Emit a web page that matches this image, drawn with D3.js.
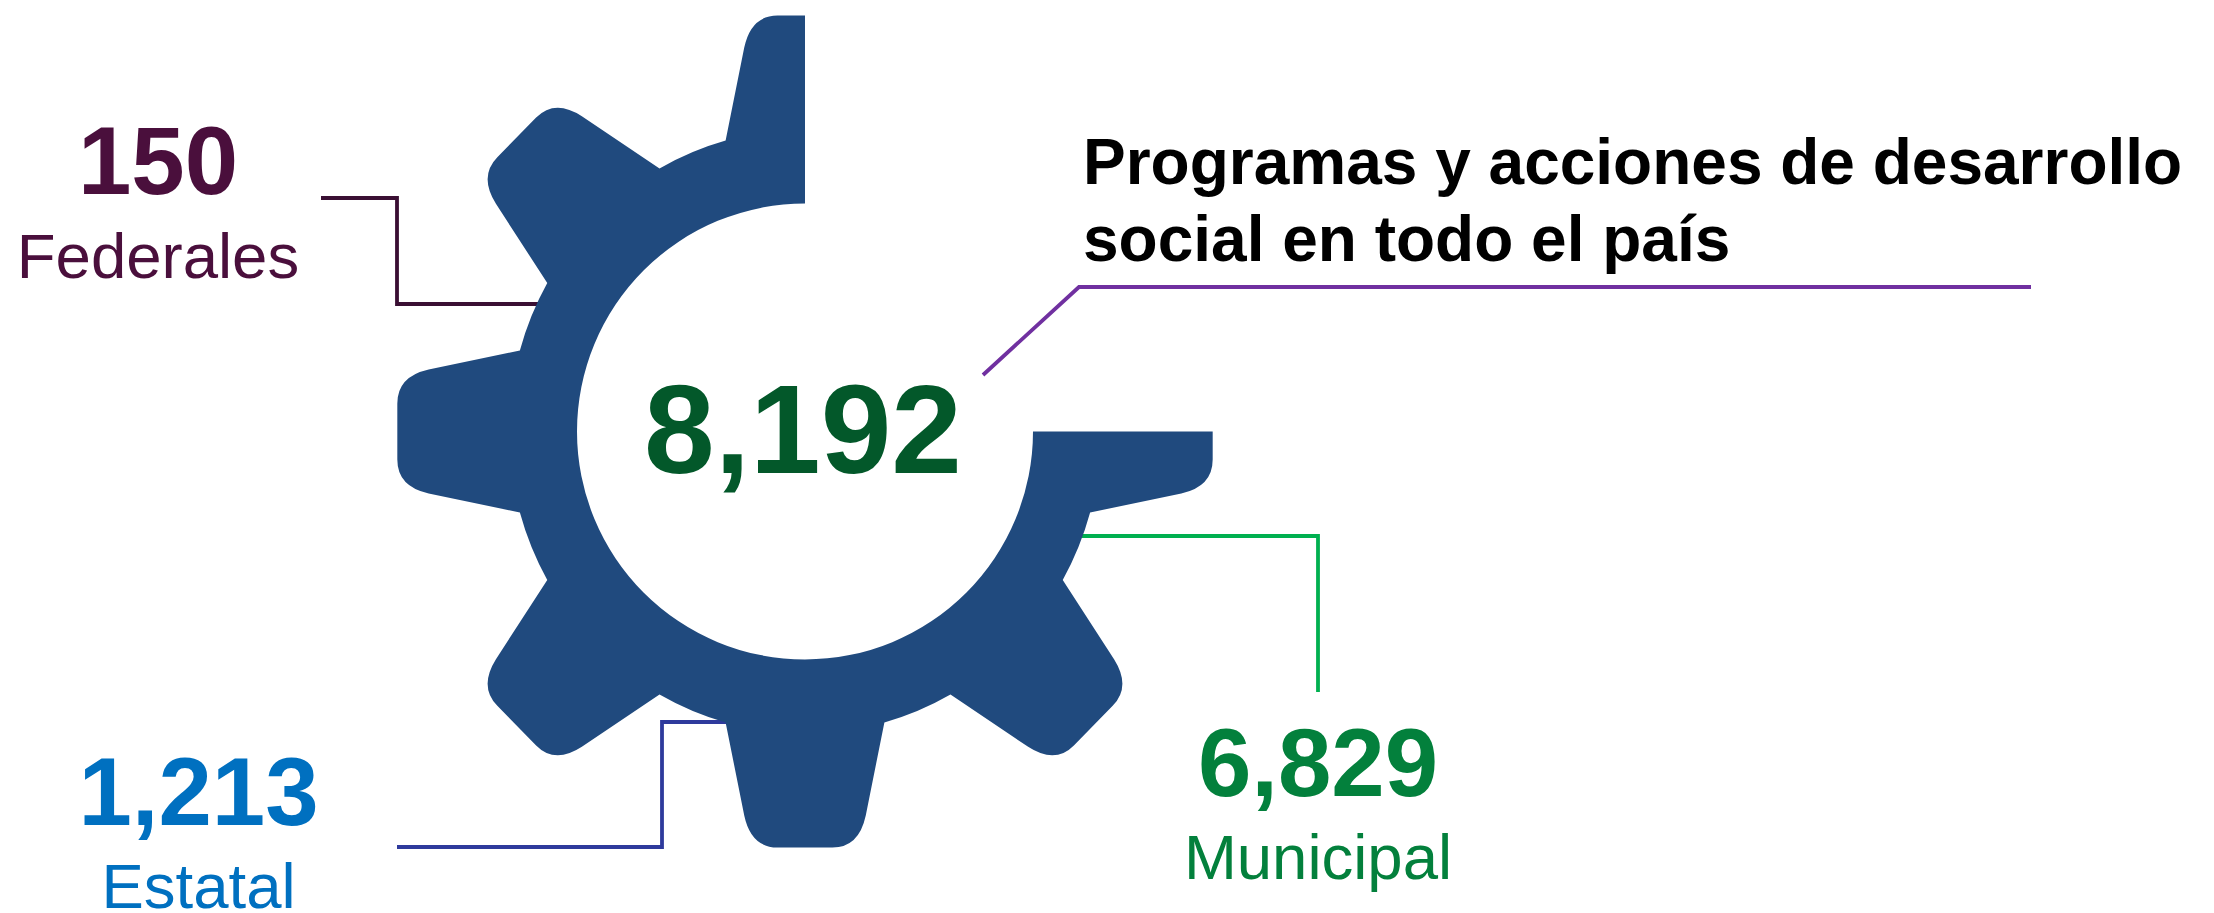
<!DOCTYPE html>
<html>
<head>
<meta charset="utf-8">
<title>Programas y acciones de desarrollo social</title>
<script src="https://cdn.jsdelivr.net/npm/d3@7"></script>
<style>
    html, body { margin: 0; padding: 0; background: #fff; overflow: hidden; }
    text { font-family: "Liberation Sans", Arial, sans-serif; }
</style>
</head>
<body>
<svg id="chart" width="2214" height="913"></svg>
<script>
// -- data
var categories = ["Federales", "Estatal", "Municipal"];
var values = [150, 1213, 6829];
var total = 8192;
var titleLines = ["Programas y acciones de desarrollo", "social en todo el país"];

// -- colours, same order as categories
var valueColors = ["#4a0f3c", "#0070c0", "#03803c"];
var lineColors = ["#3a0f33", "#2e3a9c", "#00b050"];
var gearColor = "#204a7e";
var totalColor = "#03582a";
var titleLineColor = "#7030a0";

// -- layout: label centre, value baseline, label baseline, leader line
var slots = [
    {x: 158, valueY: 194, labelY: 278, line: [[321, 198], [397, 198], [397, 304], [545, 304]]},
    {x: 198.5, valueY: 825, labelY: 908, line: [[397, 847], [662, 847], [662, 722], [730, 722]]},
    {x: 1318, valueY: 796, labelY: 879, line: [[1075, 536], [1318, 536], [1318, 692]]}
];

var svg = d3.select("#chart");
var fmt = d3.format(",");
var lineGen = d3.line();

// -- the gear: 8 teeth, top right quarter left out
var cx = 805, cy = 431.5;
var holeR = 228, rootR = 302, squeezeX = 0.98;
var toothCount = 8;
var toothHalf = Math.asin(81 / rootR);

function toothPoint(a, u, v) {
    return [cx + squeezeX * (u * Math.cos(a) + v * Math.sin(a)), cy + u * Math.sin(a) - v * Math.cos(a)];
}

function gearPath() {
    var p = d3.path();
    var step = 2 * Math.PI / toothCount;
    var pt;

    function lineTo(a, u, v) { pt = toothPoint(a, u, v); p.lineTo(pt[0], pt[1]); }
    function curveTo(a, cu, cv, u, v) {
        var c = toothPoint(a, cu, cv);
        pt = toothPoint(a, u, v);
        p.quadraticCurveTo(c[0], c[1], pt[0], pt[1]);
    }

    pt = toothPoint(0, 0, 416);
    p.moveTo(pt[0], pt[1]);

    // going counter clockwise from the half tooth on top to the half tooth on the right
    for (var i = 0; i <= 5; i++) {
        var a = -i * step;

        if (i > 0) {
            lineTo(a, 62, 384);
            curveTo(a, 55, 416, 28, 416);
        }
        lineTo(a, -28, 416);
        curveTo(a, -55, 416, -62, 384);
        lineTo(a, -81, rootR * Math.cos(toothHalf));

        // root arc to the next tooth
        var mid = a - step / 2;
        var arcHalf = step / 2 - toothHalf;
        var ctrl = toothPoint(mid, 0, rootR / Math.cos(arcHalf));
        var next = toothPoint(a - step, 81, rootR * Math.cos(toothHalf));
        p.quadraticCurveTo(ctrl[0], ctrl[1], next[0], next[1]);
    }

    // last half tooth
    var last = -6 * step;
    lineTo(last, 62, 384);
    curveTo(last, 55, 416, 28, 416);
    lineTo(last, 0, 416);

    p.lineTo(cx + holeR, cy);
    p.arc(cx, cy, holeR, 0, 1.5 * Math.PI, false);
    p.closePath();
    return p.toString();
}

// -- leader lines go behind the gear
svg.selectAll(".leader").data(slots).enter().append("path").attr("class", "leader")
    .attr("d", function(d) { return lineGen(d.line); })
    .style("fill", "none")
    .style("stroke", function(d, i) { return lineColors[i]; })
    .style("stroke-width", 3.8);

svg.append("path").attr("class", "gear")
    .attr("d", gearPath())
    .style("fill", gearColor);

svg.append("path").attr("class", "titleLine")
    .attr("d", lineGen([[983, 375], [1079, 287], [2031, 287]]))
    .style("fill", "none")
    .style("stroke", titleLineColor)
    .style("stroke-width", 3.8);

// -- texts
svg.selectAll(".value").data(values).enter().append("text").attr("class", "value")
    .attr("x", function(d, i) { return slots[i].x; })
    .attr("y", function(d, i) { return slots[i].valueY; })
    .attr("text-anchor", "middle")
    .style("font-size", "96px")
    .style("font-weight", "bold")
    .style("fill", function(d, i) { return valueColors[i]; })
    .text(function(d) { return fmt(d); });

svg.selectAll(".label").data(categories).enter().append("text").attr("class", "label")
    .attr("x", function(d, i) { return slots[i].x; })
    .attr("y", function(d, i) { return slots[i].labelY; })
    .attr("text-anchor", "middle")
    .style("font-size", "63.5px")
    .style("fill", function(d, i) { return valueColors[i]; })
    .text(function(d) { return d; });

svg.append("text").attr("class", "total")
    .attr("x", 803).attr("y", 473)
    .attr("text-anchor", "middle")
    .style("font-size", "127px")
    .style("font-weight", "bold")
    .style("fill", totalColor)
    .text(fmt(total));

svg.selectAll(".title").data(titleLines).enter().append("text").attr("class", "title")
    .attr("x", 1083)
    .attr("y", function(d, i) { return 184 + i * 77; })
    .style("font-size", "64px")
    .style("font-weight", "bold")
    .style("fill", "#000")
    .text(function(d) { return d; });
</script>
</body>
</html>
